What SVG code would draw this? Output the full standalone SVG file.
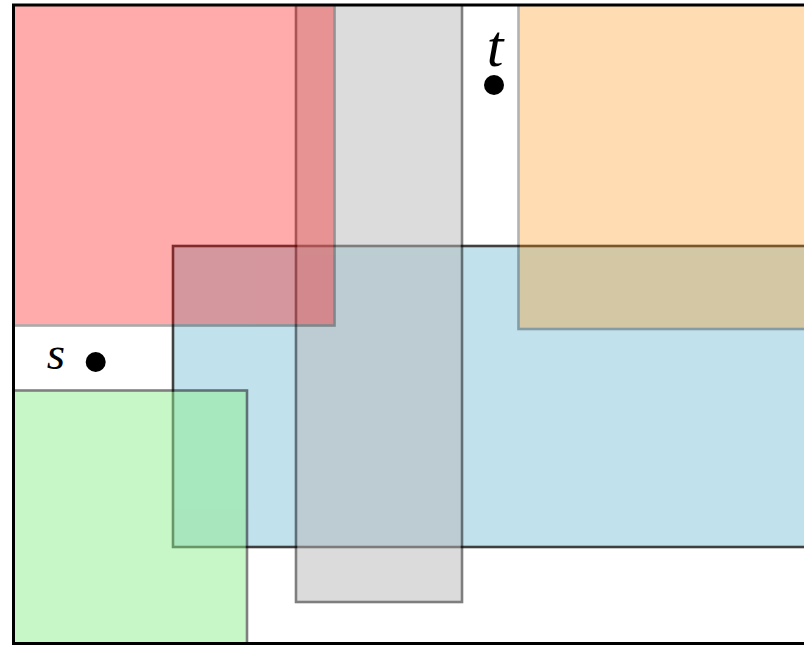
<svg xmlns="http://www.w3.org/2000/svg" width="804" height="645" viewBox="0 0 804 645">
<style>
.r{stroke:#000;stroke-width:2.6}
.lbl{font-family:"Liberation Serif","DejaVu Serif",serif;font-style:italic;fill:#000}
</style>
<defs>
<clipPath id="frameClip"><rect x="13.5" y="5" width="820" height="638.5"/></clipPath>
</defs>
<rect width="804" height="645" fill="#fff"/>
<g clip-path="url(#frameClip)">
<g id="blue" opacity="0.75"><rect class="r" x="173" y="246" width="660" height="301" fill="#add8e6"/></g>
<g id="gray" opacity="0.5"><rect class="r" x="296" y="-10" width="166" height="612" fill="#b9b9b9"/></g>
<g id="red" opacity="0.33"><rect class="r" x="-10" y="-10" width="344.5" height="335.5" fill="#ff0000"/></g>
<g id="orange" opacity="0.3"><rect class="r" x="518.5" y="-10" width="320" height="339" fill="#ff8c00"/></g>
<g id="green" opacity="0.5"><rect class="r" x="-10" y="390.5" width="257" height="270" fill="#90ee90"/></g>
</g>
<g id="frame"><rect x="13.5" y="5" width="820" height="638.5" fill="none" stroke="#000" stroke-width="3"/></g>
<g id="s">
<text class="lbl" x="56" y="369" font-size="47" text-anchor="middle">s</text>
<circle cx="95.7" cy="362" r="10" fill="#000"/>
</g>
<g id="t">
<text class="lbl" x="495" y="66" font-size="60" text-anchor="middle">t</text>
<circle cx="494" cy="85" r="10" fill="#000"/>
</g>
<g id="connectors"/>
</svg>
